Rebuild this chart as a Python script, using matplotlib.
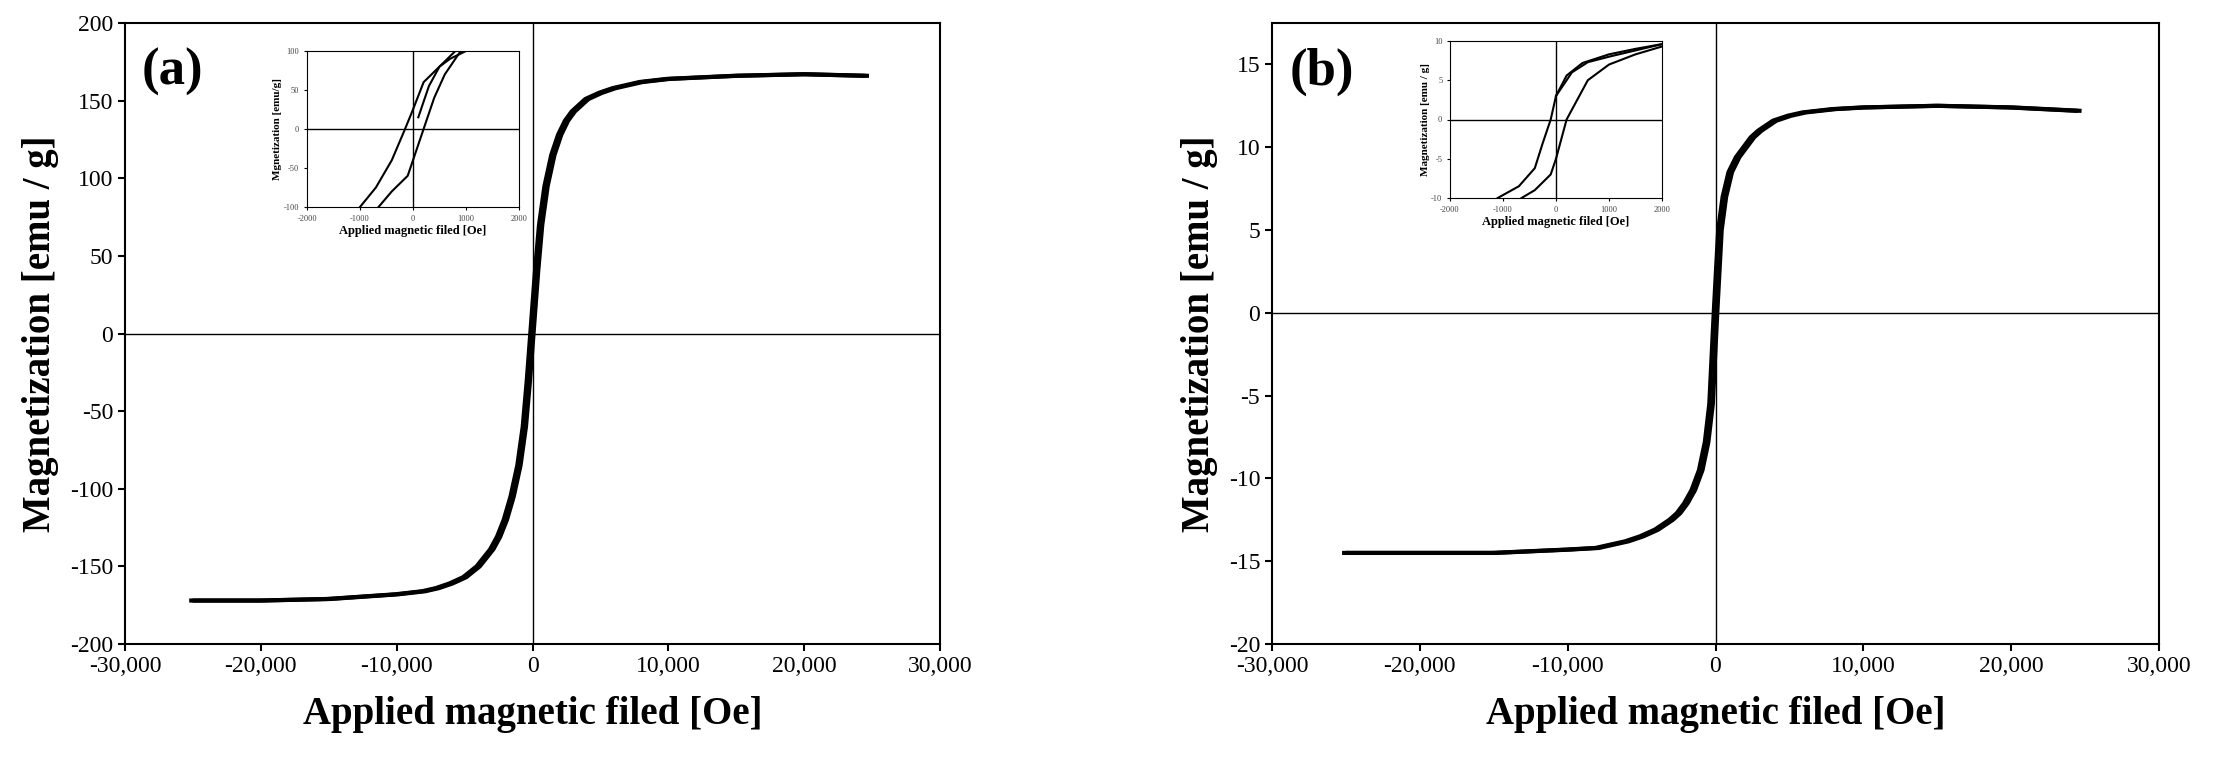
import matplotlib
matplotlib.use("Agg")
import matplotlib.pyplot as plt
import numpy as np
from matplotlib.ticker import FuncFormatter

plt.rcParams['font.family'] = ['Liberation Serif', 'DejaVu Serif']
plt.rcParams['axes.unicode_minus'] = False

# panel (a) main loop
a_field = [-25000, -20000, -15000, -10000, -8000, -7000, -6000, -5000, -4000, -3000, -2500, -2000, -1500, -1000,
           -600, -300, 0, 300, 600, 1000, 1500, 2000, 2500, 3000, 4000, 5000, 6000, 7000, 8000, 10000,
           15000, 20000, 24500]
a_mag = [-172, -172, -171, -168, -166, -164, -161, -157, -150, -139, -131, -120, -105, -85,
         -60, -30, 5, 40, 70, 95, 115, 128, 137, 143, 151, 155, 158, 160, 162, 164,
         166, 167, 166]
# panel (a) inset
a_in_up_h = [1000, 700, 500, 200, 0, -150, -400, -700, -1000]
a_in_up_m = [100, 90, 80, 60, 25, 0, -40, -75, -100]
a_in_dn_h = [-650, -400, -100, 0, 200, 400, 600, 900]
a_in_dn_m = [-100, -80, -60, -40, 0, 40, 70, 100]
a_in_init_h = [100, 300, 500, 800]
a_in_init_m = [15, 55, 80, 100]

# panel (b) main loop
b_field = [-25000, -20000, -15000, -10000, -8000, -7000, -6000, -5000, -4000, -3000, -2500, -2000, -1500, -1000,
           -600, -300, 0, 300, 600, 1000, 1500, 2000, 2500, 3000, 4000, 5000, 6000, 7000, 8000, 10000,
           15000, 20000, 24500]
b_mag = [-14.5, -14.5, -14.5, -14.3, -14.2, -14.0, -13.8, -13.5, -13.1, -12.5, -12.1, -11.5, -10.7, -9.5,
         -7.8, -5.5, 0, 5.0, 7.0, 8.5, 9.4, 10.0, 10.6, 11.0, 11.6, 11.9, 12.1, 12.2, 12.3, 12.4,
         12.5, 12.4, 12.2]
# panel (b) inset
b_in_up_h = [2000, 1500, 1000, 500, 200, 0, -100, -250, -400, -700, -1100]
b_in_up_m = [9.6, 9.0, 8.3, 7.2, 5.6, 3.0, 0, -3.0, -6.2, -8.5, -10]
b_in_dn_h = [-650, -400, -100, 0, 200, 600, 1000, 1500, 2000]
b_in_dn_m = [-10, -9, -7, -5, 0, 5, 7, 8.3, 9.3]
b_in_init_h = [0, 300, 600, 1000, 1500, 2000]
b_in_init_m = [3, 6, 7.3, 8, 8.8, 9.6]

fig = plt.figure(figsize=(22.19, 7.78), dpi=100)
W, H = 2219, 778


def px(x0, y0, x1, y1):
    return [x0 / W, 1 - y1 / H, (x1 - x0) / W, (y1 - y0) / H]


fmt = FuncFormatter(lambda v, p: f"{v:,.0f}")


def main_panel(rect, h, m, ylim, yticks, label):
    ax = fig.add_axes(rect)
    dh = 120
    ax.plot(np.array(h) - dh, np.array(m), color='black', lw=3)
    ax.plot(np.array(h) + dh, np.array(m), color='black', lw=3)
    ax.axhline(0, color='black', lw=1)
    ax.axvline(0, color='black', lw=1)
    ax.set_xlim(-30000, 30000)
    ax.set_ylim(*ylim)
    ax.set_xticks(np.arange(-30000, 30001, 10000))
    ax.set_yticks(yticks)
    ax.xaxis.set_major_formatter(fmt)
    ax.tick_params(labelsize=17, direction='out', length=5, width=1.5)
    for s in ax.spines.values():
        s.set_linewidth(1.5)
    ax.set_xlabel('Applied magnetic filed [Oe]', fontsize=28, fontweight='bold', labelpad=14)
    ax.set_ylabel('Magnetization [emu / g]', fontsize=28, fontweight='bold', labelpad=8)
    ax.text(0.02, 0.96, label, transform=ax.transAxes, fontsize=38, fontweight='bold', va='top')
    return ax


def inset(rect, curves, ylim, yticks, ylabel):
    ax = fig.add_axes(rect)
    for hh, mm in curves:
        ax.plot(hh, mm, color='black', lw=1.5)
    ax.axhline(0, color='black', lw=1)
    ax.axvline(0, color='black', lw=1)
    ax.set_xlim(-2000, 2000)
    ax.set_ylim(*ylim)
    ax.set_xticks([-2000, -1000, 0, 1000, 2000])
    ax.set_yticks(yticks)
    ax.tick_params(labelsize=6, length=2, colors='black', labelcolor='#444444')
    ax.set_xlabel('Applied magnetic filed [Oe]', fontsize=9, fontweight='bold', labelpad=2)
    ax.set_ylabel(ylabel, fontsize=8, fontweight='bold', labelpad=1)
    return ax


main_panel(px(125, 23, 940, 644), a_field, a_mag, (-200, 200), np.arange(-200, 201, 50), '(a)')
main_panel(px(1272, 23, 2159, 644), b_field, b_mag, (-20, 17.5), np.arange(-20, 16, 5), '(b)')

inset(px(307, 51, 519, 207),
      [(a_in_up_h, a_in_up_m), (a_in_dn_h, a_in_dn_m), (a_in_init_h, a_in_init_m)],
      (-100, 100), [-100, -50, 0, 50, 100], 'Mgnetization [emu/g]')
inset(px(1450, 41, 1662, 198),
      [(b_in_up_h, b_in_up_m), (b_in_dn_h, b_in_dn_m), (b_in_init_h, b_in_init_m)],
      (-10, 10), [-10, -5, 0, 5, 10], 'Magnetization [emu / g]')

fig.savefig('out.png', dpi=100)
